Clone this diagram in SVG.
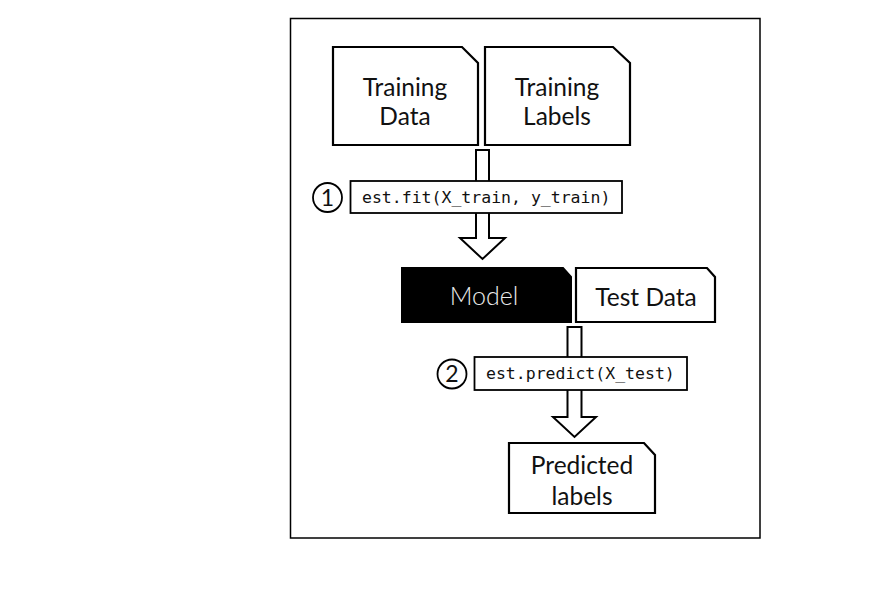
<svg xmlns="http://www.w3.org/2000/svg" width="893" height="599" viewBox="0 0 893 599">
<style>
.doc{fill:#fff;stroke:#000;stroke-width:2.2;stroke-linejoin:miter}
.lbl{font-family:Lato,"Liberation Sans",sans-serif;font-size:24.5px;fill:#111;text-anchor:middle}
.code{font-family:"DejaVu Sans Mono","Liberation Mono",monospace;font-size:16.5px;fill:#111}
.cbox{fill:#fff;stroke:#000;stroke-width:1.8}
.arrow{fill:#fff;stroke:#000;stroke-width:2}
.num{fill:#fff;stroke:#000;stroke-width:1.8}
.numt{font-family:Lato,"Liberation Sans",sans-serif;font-size:23px;fill:#111;text-anchor:middle}
</style>
<rect x="0" y="0" width="893" height="599" fill="#fff"/>
<rect x="290.5" y="18.5" width="469.5" height="519.5" fill="#fff" stroke="#000" stroke-width="1.5"/>
<g id="connectors">
<polygon class="arrow" points="476,150 489,150 489,238 505,238 482.5,259 460,238 476,238"/>
<polygon class="arrow" points="567.5,327 581.5,327 581.5,417 596,417 574.5,437 553,417 567.5,417"/>
</g>
<g id="training-data">
<path class="doc" d="M333,47 H462 L478,63 V145 H333 Z"/>
<text class="lbl" x="405" y="96">Training</text>
<text class="lbl" x="405" y="125">Data</text>
</g>
<g id="training-labels">
<path class="doc" d="M485,47 H613 L630,63 V145 H485 Z"/>
<text class="lbl" x="557" y="96">Training</text>
<text class="lbl" x="557" y="125">Labels</text>
</g>
<g id="step1">
<circle class="num" cx="327.5" cy="197.5" r="14.5"/>
<text class="numt" x="327.5" y="205.5">1</text>
<rect class="cbox" x="350.5" y="181" width="271.5" height="32"/>
<text class="code" x="362" y="203">est.fit(X_train, y_train)</text>
</g>
<g id="model">
<path d="M402,268 H563 L571,277 V322 H402 Z" fill="#000" stroke="#000" stroke-width="2"/>
<text class="lbl" x="484" y="305" style="fill:#ececec;font-weight:300;font-size:25px">Model</text>
</g>
<g id="test-data">
<path class="doc" d="M576,268 H707 L715,277 V322 H576 Z"/>
<text class="lbl" x="646" y="306">Test Data</text>
</g>
<g id="step2">
<circle class="num" cx="452" cy="374" r="14.5"/>
<text class="numt" x="452" y="382">2</text>
<rect class="cbox" x="474.5" y="357" width="212.5" height="33"/>
<text class="code" x="486" y="379">est.predict(X_test)</text>
</g>
<g id="predicted-labels">
<path class="doc" d="M509,443 H644 L655,455 V513 H509 Z"/>
<text class="lbl" x="582" y="474">Predicted</text>
<text class="lbl" x="582" y="505">labels</text>
</g>
</svg>
